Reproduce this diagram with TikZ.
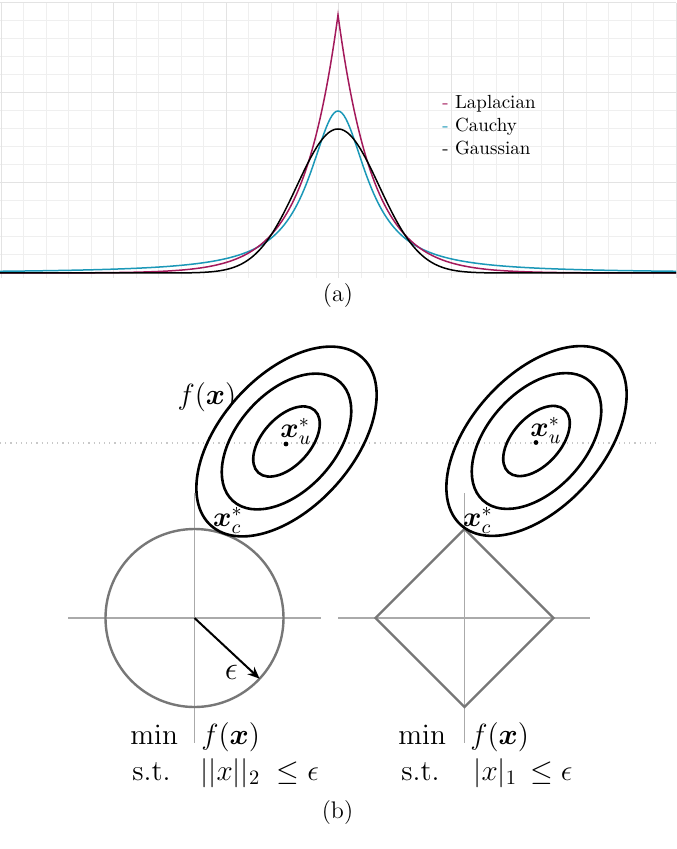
\documentclass[tikz,border=0pt]{standalone}
\usepackage{fix-cm}
\usepackage{amsmath}
\usetikzlibrary{arrows.meta}
\definecolor{lapc}{HTML}{A3195B}
\definecolor{cauc}{HTML}{1B98B8}
\definecolor{gridminor}{HTML}{EFEFEF}
\definecolor{gridmajor}{HTML}{E3E3E3}
\definecolor{shapegray}{HTML}{777777}
\definecolor{axisgray}{HTML}{AAAAAA}
\definecolor{dotgray}{HTML}{C8C8C8}
\begin{document}
\begin{tikzpicture}[x=0.5pt,y=0.5pt,
  gminor/.style={draw=gridminor,line width=0.45pt},
  gmajor/.style={draw=gridmajor,line width=0.5pt},
  curve/.style={line width=0.75pt},
  legtext/.style={anchor=base west,inner sep=0pt,font=\fontsize{9.5}{11}\selectfont},
  caption/.style={inner sep=0pt,font=\fontsize{12}{14}\selectfont},
  ell/.style={draw=black,line width=1.3pt},
  shapeline/.style={draw=shapegray,line width=1.2pt},
  axisline/.style={draw=axisgray,line width=0.6pt},
  mlabel/.style={inner sep=0pt,font=\fontsize{14}{16}\selectfont},
  optext/.style={anchor=base west,inner sep=0pt,font=\fontsize{14.6}{17}\selectfont},
  dotnode/.style={circle,fill=black,inner sep=0pt,minimum size=2.4pt},
  arr/.style={draw=black,line width=1pt,-{Stealth[length=6pt,width=5pt]}}
]
\useasboundingbox (0,0) rectangle (676,-849);
\fill[white] (0,0) rectangle (676,-849);
% ---------- (a) grid ----------
\foreach \i in {0,...,30} {
  \pgfmathsetmacro\gx{1+22.5*\i}
  \draw[gminor] (\gx,-2.7) -- (\gx,-278);
}
\foreach \j in {0,...,15} {
  \pgfmathsetmacro\gy{-2.7-18*\j}
  \draw[gminor] (0,\gy) -- (676,\gy);
}
\foreach \i in {0,5,...,30} {
  \pgfmathsetmacro\gx{1+22.5*\i}
  \draw[gmajor] (\gx,-2.7) -- (\gx,-278);
}
\foreach \j in {0,5,10,15} {
  \pgfmathsetmacro\gy{-2.7-18*\j}
  \draw[gmajor] (0,\gy) -- (676,\gy);
}
% ---------- (a) curves (x in pixels from centre) ----------
\draw[curve,cauc] plot[domain=-338:338,samples=339] ({338+\x},{-273+162/(1+(\x/35)*(\x/35))});
\draw[curve,lapc] plot[domain=-338:338,samples=339] ({338+\x},{-273+258*exp(-abs(\x)/35)});
\draw[curve,black] plot[domain=-338:338,samples=339] ({338+\x},{-273+144*exp(-(\x/41)*(\x/41)/2)});
% legend
\node[legtext] (lapleg) at (442,-109) {{\color{lapc}-} Laplacian};
\node[legtext] (cauleg) at (442,-132) {{\color{cauc}-} Cauchy};
\node[legtext] (gauleg) at (442,-155) {{\color{black}-} Gaussian};
\node[caption] (capa) at (338,-296) {(a)};
% ---------- (b) ----------
\draw[dotgray,line width=0.6pt,dotted] (0,-443) -- (658,-443);
% axes
\draw[axisline] (68,-618) -- (321,-618);
\draw[axisline] (194.5,-493) -- (194.5,-743);
\draw[axisline] (338,-618) -- (590,-618);
\draw[axisline] (464.5,-493) -- (464.5,-743);
% circle and diamond
\draw[shapeline] (194.5,-618) circle (89);
\draw[shapeline] (464.5,-529) -- (553.5,-618) -- (464.5,-707) -- (375.5,-618) -- cycle;
% ellipses left
\draw[ell] (286.5,-441.5) ellipse [x radius=113, y radius=66, rotate=48];
\draw[ell] (286.5,-441.5) ellipse [x radius=80, y radius=49, rotate=48];
\draw[ell] (286.5,-441.5) ellipse [x radius=42, y radius=24, rotate=48];
% ellipses right
\draw[ell] (536.5,-441) ellipse [x radius=113, y radius=66, rotate=48];
\draw[ell] (536.5,-441) ellipse [x radius=80, y radius=49, rotate=48];
\draw[ell] (536.5,-441) ellipse [x radius=42, y radius=24, rotate=48];
% dots
\node[dotnode] (dul) at (286,-444) {};
\node[dotnode] (dur) at (536,-442.5) {};
% labels
\node[mlabel,font=\fontsize{14.6}{17}\selectfont] (fxl) at (207,-397) {$f(\boldsymbol{x})$};
\node[mlabel] (xul) at (296,-431) {$\boldsymbol{x}_u^*$};
\node[mlabel] (xur) at (546,-430) {$\boldsymbol{x}_u^*$};
\node[mlabel] (xcl) at (228,-520) {$\boldsymbol{x}_c^*$};
\node[mlabel] (xcr) at (478,-520) {$\boldsymbol{x}_c^*$};
% arrow
\coordinate (oc) at (194.5,-618);
\coordinate (ae) at (259.6,-678.7);
\draw[arr] (oc) -- (ae);
\node[mlabel,font=\fontsize{16.5}{19}\selectfont] (eps) at (231.5,-672) {$\epsilon$};
% problem statements
\node[optext] (minl) at (130,-744) {$\min$};
\node[optext] (fl) at (201,-744) {$f(\boldsymbol{x})$};
\node[optext] (stl) at (132,-780) {s.t.};
\node[optext] (consl) at (200,-780) {$||x||_2 \;\le \epsilon$};
\node[optext] (minr) at (398,-744) {$\min$};
\node[optext] (fr) at (470,-744) {$f(\boldsymbol{x})$};
\node[optext] (str) at (401,-780) {s.t.};
\node[optext] (consr) at (473,-780) {$|x|_1 \,\le \epsilon$};
\node[caption] (capb) at (337.5,-813) {(b)};
\end{tikzpicture}
\end{document}
